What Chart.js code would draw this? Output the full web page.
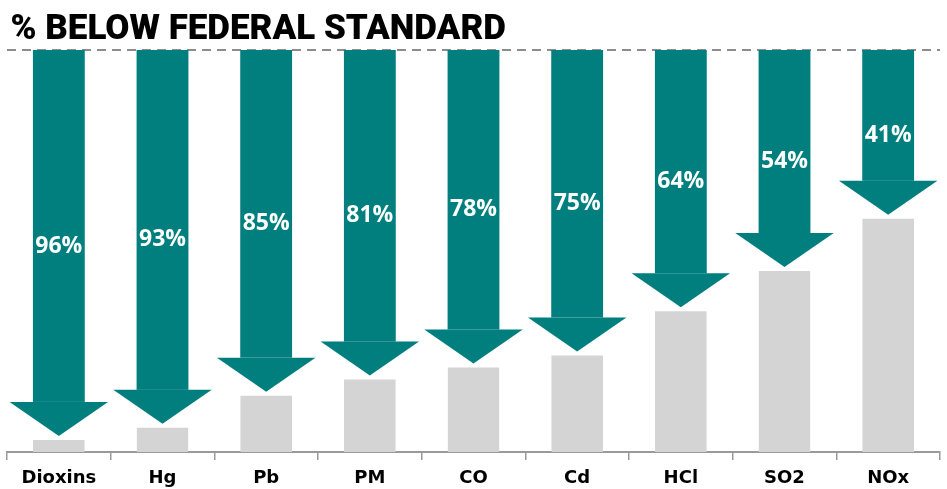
<!DOCTYPE html>
<html>
<head>
<meta charset="utf-8">
<script src="https://cdn.jsdelivr.net/npm/chart.js@4"></script>
<style>
    html, body { margin: 0; padding: 0; background: #ffffff; }
    #wrap { width: 947px; height: 489px; position: relative; }
</style>
</head>
<body>
<div id="wrap"><canvas id="belowChart"></canvas></div>
<script>
// Pollutants, share below the federal standard, and what is left up to the standard
const categories = ['Dioxins', 'Hg', 'Pb', 'PM', 'CO', 'Cd', 'HCl', 'SO2', 'NOx'];
const belowPct = [96, 93, 85, 81, 78, 75, 64, 54, 41];
const remainingPct = [4, 7, 15, 19, 22, 25, 36, 46, 59];

const TEAL = '#007f7e';
const GREY = '#d4d4d4';

// Draws the dashed "federal standard" line and turns the teal bars into arrows
const arrowPlugin = {
    id: 'arrows',
    beforeDatasetsDraw(chart) {
        const ctx = chart.ctx;
        const area = chart.chartArea;
        const yTop = chart.scales.y.getPixelForValue(100);
        ctx.save();
        ctx.strokeStyle = '#8c8c8c';
        ctx.lineWidth = 2;
        ctx.setLineDash([9, 6]);
        ctx.beginPath();
        ctx.moveTo(area.left, yTop);
        ctx.lineTo(area.right, yTop);
        ctx.stroke();
        ctx.restore();
    },
    afterDatasetsDraw(chart) {
        const ctx = chart.ctx;
        const meta = chart.getDatasetMeta(1);
        const headH = 34;
        ctx.save();
        meta.data.forEach((bar, i) => {
            const { x, y, base, width } = bar.getProps(['x', 'y', 'base', 'width'], true);
            const hw = width * 0.95;
            ctx.fillStyle = TEAL;
            ctx.fillRect(x - width / 2, y, width, base - headH - y);
            ctx.beginPath();
            ctx.moveTo(x - hw, base - headH);
            ctx.lineTo(x + hw, base - headH);
            ctx.lineTo(x, base);
            ctx.closePath();
            ctx.fill();

            ctx.fillStyle = '#ffffff';
            ctx.font = 'bold 23px "Open Sans", sans-serif';
            ctx.textAlign = 'center';
            ctx.textBaseline = 'middle';
            ctx.fillText(belowPct[i] + '%', x, (y + base) / 2 + 3);
        });
        ctx.restore();
    }
};

new Chart(document.getElementById('belowChart'), {
    type: 'bar',
    data: {
        labels: categories,
        datasets: [
            {
                label: 'Remaining',
                data: remainingPct,
                backgroundColor: GREY,
                borderColor: '#ffffff',
                borderWidth: { top: 4, left: 0, right: 0, bottom: 0 },
                borderSkipped: false,
                barPercentage: 0.5,
                categoryPercentage: 1.0
            },
            {
                label: '% Below',
                data: belowPct,
                backgroundColor: 'rgba(0,0,0,0)',
                borderWidth: 0,
                barPercentage: 0.5,
                categoryPercentage: 1.0
            }
        ]
    },
    options: {
        responsive: true,
        maintainAspectRatio: false,
        animation: false,
        layout: {
            padding: { top: 0, left: 7, right: 7, bottom: 1 }
        },
        plugins: {
            legend: { display: false },
            tooltip: { enabled: false },
            title: {
                display: true,
                text: '\u200A% BELOW FEDERAL STANDARD',
                align: 'start',
                color: '#000000',
                font: { family: 'Roboto, "DejaVu Sans", sans-serif', size: 35, weight: '900', lineHeight: 1 },
                padding: { top: 13, bottom: 2 }
            }
        },
        scales: {
            x: {
                stacked: true,
                afterFit(scale) {
                    scale.height = 36;
                },
                grid: {
                    display: true,
                    offset: true,
                    drawOnChartArea: false,
                    drawTicks: true,
                    tickLength: 8,
                    color: '#9a9a9a',
                    lineWidth: 1.5
                },
                border: { display: true, color: '#9a9a9a', width: 2 },
                ticks: {
                    color: '#000000',
                    padding: 9,
                    font: { family: '"DejaVu Sans", sans-serif', size: 18, weight: 'bold', lineHeight: 1 }
                }
            },
            y: {
                stacked: true,
                display: false,
                min: 0,
                max: 100
            }
        }
    },
    plugins: [arrowPlugin]
});
</script>
</body>
</html>
